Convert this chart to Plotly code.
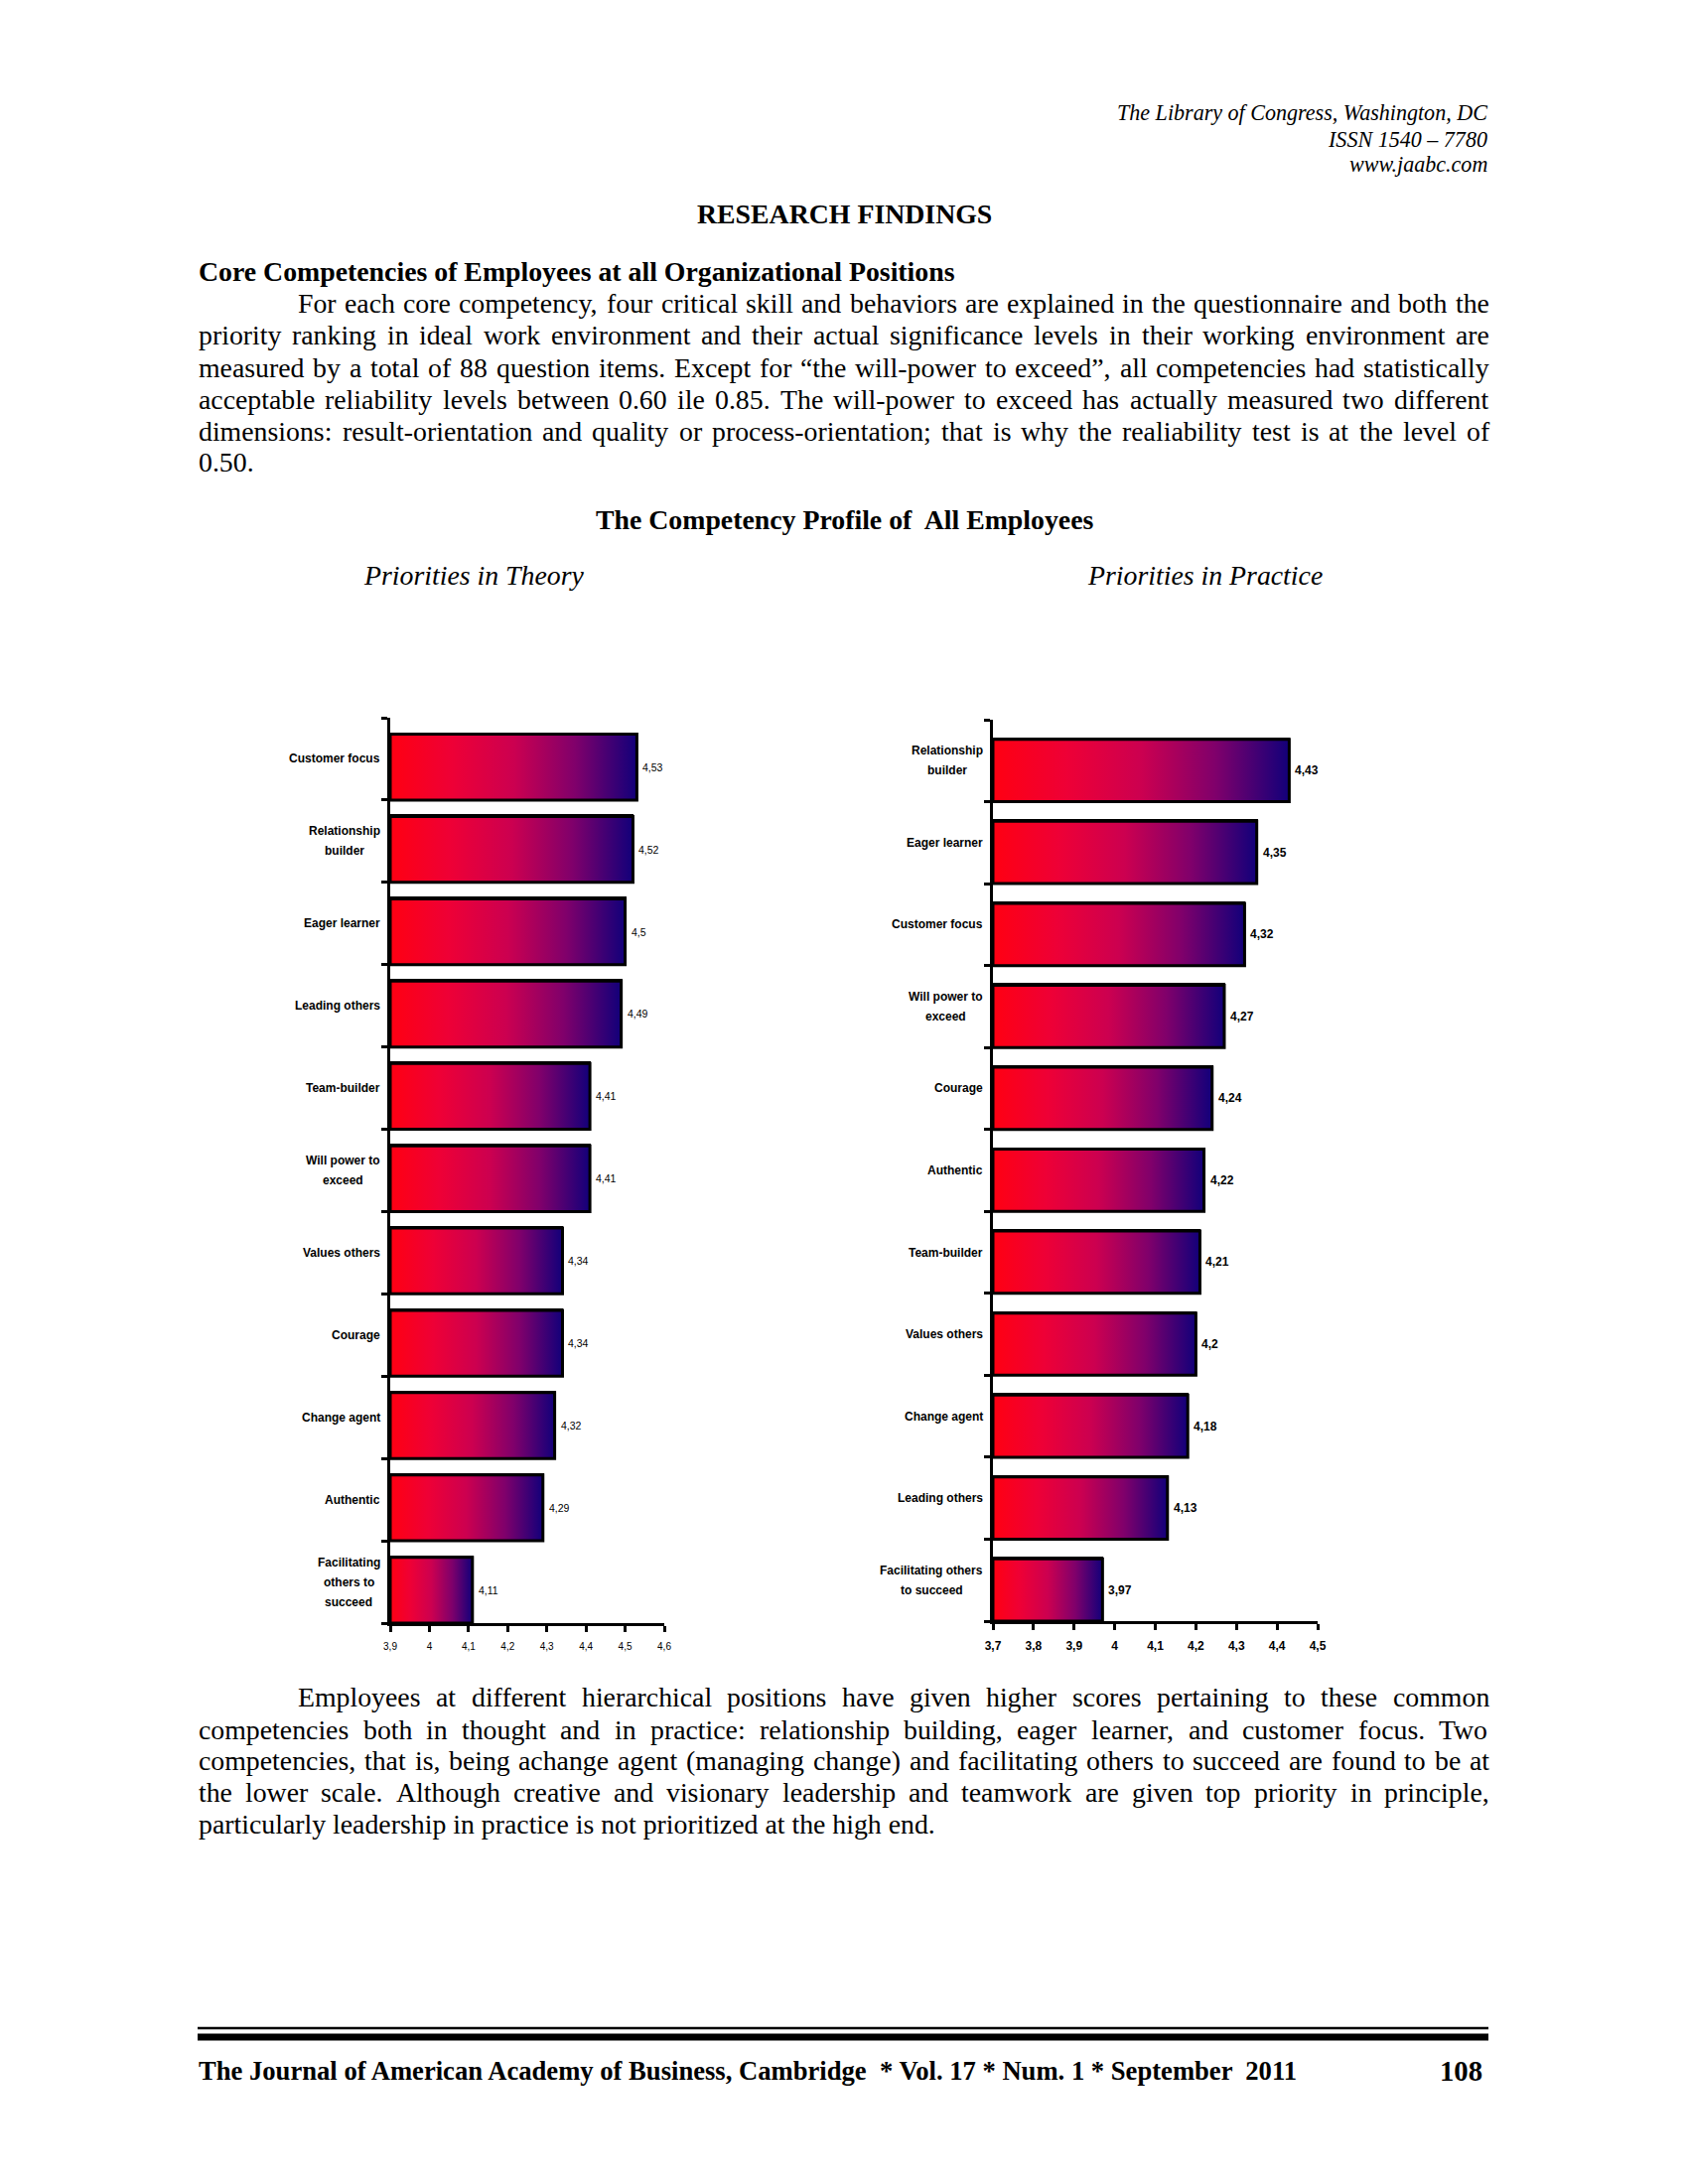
import plotly.graph_objects as go

W, H = 1700, 2200

# ---------------- data ----------------
theory_categories = ["Customer focus", "Relationship\nbuilder", "Eager learner", "Leading others",
                     "Team-builder", "Will power to\nexceed", "Values others", "Courage",
                     "Change agent", "Authentic", "Facilitating\nothers to\nsucceed"]
theory_values = [4.53, 4.52, 4.5, 4.49, 4.41, 4.41, 4.34, 4.34, 4.32, 4.29, 4.11]
theory_ticks = [3.9, 4.0, 4.1, 4.2, 4.3, 4.4, 4.5, 4.6]

practice_categories = ["Relationship\nbuilder", "Eager learner", "Customer focus", "Will power to\nexceed",
                       "Courage", "Authentic", "Team-builder", "Values others", "Change agent",
                       "Leading others", "Facilitating others\nto succeed"]
practice_values = [4.43, 4.35, 4.32, 4.27, 4.24, 4.22, 4.21, 4.2, 4.18, 4.13, 3.97]
practice_ticks = [3.7, 3.8, 3.9, 4.0, 4.1, 4.2, 4.3, 4.4, 4.5]

header_lines = ["The Library of Congress, Washington, DC", "ISSN 1540 \u2013 7780", "www.jaabc.com"]
section_title = "RESEARCH FINDINGS"
sub_title = "Core Competencies of Employees at all Organizational Positions"
para1_lines = [
    "For each core competency, four critical skill and behaviors are explained in the questionnaire and both the",
    "priority ranking in ideal work environment and their actual significance levels in their working environment are",
    "measured by a total of 88 question items.  Except for \u201cthe will-power to exceed\u201d, all competencies had statistically",
    "acceptable reliability levels between 0.60 ile 0.85. The will-power to exceed has actually measured two different",
    "dimensions: result-orientation and quality or process-orientation; that is why the realiability test is at the level of",
    "0.50.",
]
chart_title = "The Competency Profile of  All Employees"
left_subtitle = "Priorities in Theory"
right_subtitle = "Priorities in Practice"
para2_lines = [
    "Employees at different hierarchical positions have given higher scores  pertaining to these common",
    "competencies both in thought and in practice: relationship building, eager learner, and customer focus.  Two",
    "competencies, that is, being achange agent (managing change) and facilitating others to succeed are found to be at",
    "the lower scale.  Although creative and visionary leadership and teamwork are given top priority in principle,",
    "particularly leadership in practice is not prioritized at the high end.",
]
footer_text = "The Journal of American Academy of Business, Cambridge  * Vol. 17 * Num. 1 * September  2011"
page_number = "108"

# ---------------- helpers ----------------
def px(x):
    return x / W

def py(y):
    return 1 - y / H

def comma(v):
    return f"{v:g}".replace(".", ",")

# Times / Liberation Serif advance widths (1/1000 em)
TIMES = {" ": 250, "!": 333, "(": 333, ")": 333, ",": 250, "-": 333, ".": 250, ":": 278, ";": 278,
         "\u201c": 444, "\u201d": 444, "'": 180, "\u2013": 500, "*": 500}
for c in "0123456789":
    TIMES[c] = 500
TIMES.update(dict(zip("abcdefghijklmnopqrstuvwxyz",
                      [444, 500, 444, 500, 444, 333, 500, 500, 278, 278, 500, 278, 778, 500, 500, 500, 500,
                       333, 389, 278, 500, 500, 722, 500, 500, 444])))
TIMES.update(dict(zip("ABCDEFGHIJKLMNOPQRSTUVWXYZ",
                      [722, 667, 667, 722, 611, 556, 722, 722, 333, 389, 722, 611, 889, 722, 722, 556, 722,
                       667, 556, 611, 722, 722, 944, 722, 722, 611])))
TIMESB = dict(TIMES)
TIMESB.update(dict(zip("abcdefghijklmnopqrstuvwxyz",
                       [500, 556, 444, 556, 444, 333, 500, 556, 278, 333, 556, 278, 833, 556, 500, 556, 556,
                        444, 389, 333, 556, 500, 722, 500, 500, 444])))
TIMESB.update(dict(zip("ABCDEFGHIJKLMNOPQRSTUVWXYZ",
                       [722, 667, 722, 722, 667, 611, 778, 778, 389, 500, 778, 667, 944, 722, 778, 611, 778,
                        722, 556, 667, 722, 722, 1000, 722, 722, 667])))
# Arial / Liberation Sans bold
ARIALB = {" ": 278, "-": 333}
ARIALB.update(dict(zip("abcdefghijklmnopqrstuvwxyz",
                       [556, 611, 556, 611, 556, 333, 611, 611, 278, 278, 556, 278, 889, 611, 611, 611, 611,
                        389, 556, 333, 611, 556, 778, 556, 556, 500])))
ARIALB.update(dict(zip("ABCDEFGHIJKLMNOPQRSTUVWXYZ",
                       [722, 722, 722, 722, 667, 611, 778, 722, 278, 556, 722, 611, 833, 722, 778, 667, 778,
                        722, 667, 611, 722, 667, 944, 667, 667, 611])))

def tw(s, table=TIMES):
    return sum(table.get(c, 500) for c in s) / 1000.0

SERIF = "Liberation Serif"
SANS = "Liberation Sans"
FS = 27.8
LEFT, RIGHT, INDENT = 199, 1499, 299

GRAD = [[0.0, "#ff0012"], [0.25, "#ee0036"], [0.5, "#cc0050"], [0.75, "#80006b"], [1.0, "#12007a"]]

annotations = []
shapes = []

def text_ann(text, x, y, size, xanchor="left", family=SERIF):
    annotations.append(dict(text=text, x=px(x), y=py(y), xref="paper", yref="paper",
                            xanchor=xanchor, yanchor="middle", showarrow=False, borderpad=0,
                            font=dict(family=family, size=size, color="black")))

def add_para(lines, ys):
    for k, (line, y) in enumerate(zip(lines, ys)):
        left = INDENT if k == 0 else LEFT
        if k == len(lines) - 1:
            text_ann(line, left, y, FS)
            continue
        words = line.split()
        widths = [tw(w) * FS for w in words]
        gap = (RIGHT - left - sum(widths)) / (len(words) - 1)
        gap = max(gap, 0.15 * FS)
        x = left
        for w, wd in zip(words, widths):
            text_ann(w, x, y, FS)
            x += wd + gap

# ---------------- page text ----------------
hfs = 377 / tw(header_lines[0])
for line, y in zip(header_lines, [113.6, 140.3, 165.5]):
    text_ann("<i>" + line + "</i>", 1499, y, hfs, xanchor="right")

text_ann("<b>" + section_title + "</b>", 850, 216, FS, xanchor="center")
text_ann("<b>" + sub_title + "</b>", LEFT, 273.5, FS)
add_para(para1_lines, [305.8, 338.0, 370.3, 402.5, 434.8, 465.7])
text_ann("<b>" + chart_title + "</b>", 850, 523, FS, xanchor="center")
text_ann("<i>" + left_subtitle + "</i>", 477, 579, FS, xanchor="center")
text_ann("<i>" + right_subtitle + "</i>", 1213, 579, FS, xanchor="center")
add_para(para2_lines, [1709.8, 1742.0, 1773.0, 1805.0, 1837.5])

ffs = 1114 / tw(footer_text, TIMESB)
text_ann("<b>" + footer_text + "</b>", LEFT, 2085.6, ffs)
text_ann("<b>" + page_number + "</b>", 1494, 2085.6, ffs * 1.08, xanchor="right")
shapes.append(dict(type="line", xref="paper", yref="paper", x0=px(LEFT), x1=px(RIGHT),
                   y0=py(2043), y1=py(2043), line=dict(color="black", width=2.5)))
shapes.append(dict(type="line", xref="paper", yref="paper", x0=px(LEFT), x1=px(RIGHT),
                   y0=py(2052), y1=py(2052), line=dict(color="black", width=7)))

# ---------------- charts ----------------
fig = go.Figure()

charts = [
    dict(cats=theory_categories, vals=theory_values, ticks=theory_ticks, xa="x", ya="y",
         xdom=(393, 669), ydom=(723, 1635), w=0.80, bold=False, vfs=10.5, tfs=10),
    dict(cats=practice_categories, vals=practice_values, ticks=practice_ticks, xa="x2", ya="y2",
         xdom=(1000, 1327), ydom=(725, 1633), w=0.76, bold=True, vfs=12, tfs=12),
]

LABEL_FS = 12
layout_axes = {}
for ci, c in enumerate(charts):
    n = len(c["vals"])
    pos = list(range(n))
    w = c["w"]
    x0 = c["ticks"][0]
    weight = "bold" if c["bold"] else "normal"
    fig.add_trace(go.Bar(
        x=c["vals"], y=pos, orientation="h", width=w, offset=0.5 - w,
        marker=dict(color="#ff0012", line=dict(color="black", width=3)),
        xaxis=c["xa"], yaxis=c["ya"], showlegend=False, hoverinfo="skip"))
    for i, v in enumerate(c["vals"]):
        top = i + 0.5 - w
        bot = i + 0.5
        fig.add_trace(go.Scatter(
            x=[x0, v, v, x0, x0], y=[top, top, bot, bot, top], mode="lines",
            fill="toself", fillgradient=dict(type="horizontal", colorscale=GRAD),
            line=dict(color="black", width=3), xaxis=c["xa"], yaxis=c["ya"],
            showlegend=False, hoverinfo="skip"))
        # value label just right of the bar end
        annotations.append(dict(
            text=comma(v), x=v, y=i + 0.5 - w / 2, xref=c["xa"], yref=c["ya"],
            xanchor="left", yanchor="middle", showarrow=False, borderpad=0, xshift=5,
            font=dict(family=SANS, size=c["vfs"], color="black", weight=weight)))
    # category labels: multi-line blocks, lines centred, block right edge 10px left of axis
    for i, cat in enumerate(c["cats"]):
        parts = cat.split("\n")
        k = len(parts)
        bw = max(tw(p, ARIALB) for p in parts) * LABEL_FS
        for j, part in enumerate(parts):
            annotations.append(dict(
                text="<b>" + part + "</b>", x=0, y=i, xref=c["xa"] + " domain", yref=c["ya"],
                xanchor="center", yanchor="middle", showarrow=False, borderpad=0,
                xshift=-10 - bw / 2, yshift=((k - 1) / 2 - j) * 20,
                font=dict(family=SANS, size=LABEL_FS, color="black")))
    xname = "xaxis" if ci == 0 else "xaxis2"
    yname = "yaxis" if ci == 0 else "yaxis2"
    layout_axes[xname] = dict(
        domain=[px(c["xdom"][0]), px(c["xdom"][1])], range=[c["ticks"][0], c["ticks"][-1]],
        anchor=c["ya"], tickvals=c["ticks"], ticktext=[comma(t) for t in c["ticks"]],
        ticks="outside", ticklen=6, tickwidth=3, tickcolor="black",
        showline=True, linewidth=3, linecolor="black", showgrid=False, zeroline=False,
        ticklabelstandoff=6,
        tickfont=dict(family=SANS, size=c["tfs"], color="black", weight=weight))
    layout_axes[yname] = dict(
        domain=[py(c["ydom"][1]), py(c["ydom"][0])], range=[n - 0.5, -0.5], anchor=c["xa"],
        tickvals=[i - 0.5 for i in range(n + 1)], ticks="outside", ticklen=6, tickwidth=3,
        tickcolor="black", showticklabels=False, showline=True, linewidth=3, linecolor="black",
        showgrid=False, zeroline=False)

fig.update_layout(
    width=W, height=H, margin=dict(l=0, r=0, t=0, b=0, autoexpand=False),
    paper_bgcolor="white", plot_bgcolor="white",
    showlegend=False, annotations=annotations, shapes=shapes, bargap=0,
    **layout_axes)

fig.write_html("out.html", config={"displayModeBar": False},
               post_script="document.body.style.margin='0px';")
